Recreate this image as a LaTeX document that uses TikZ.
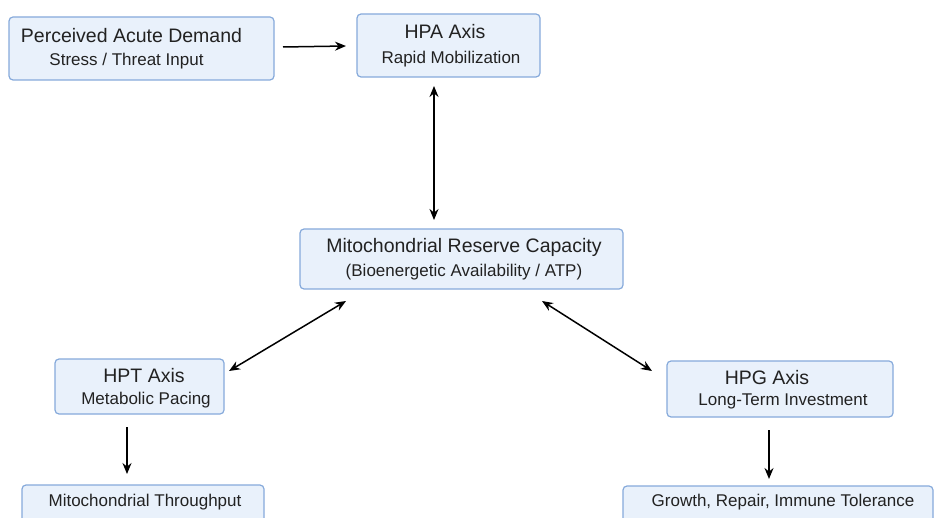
\documentclass[tikz,border=0pt]{standalone}
\usepackage{fontspec}
\setmainfont{Liberation Sans}
\usetikzlibrary{arrows.meta}
\definecolor{boxfill}{HTML}{E9F1FB}
\definecolor{boxline}{HTML}{86AADB}
\definecolor{txt}{HTML}{222222}
\begin{document}
\begin{tikzpicture}[x=1pt,y=-1pt,
  bx/.style={draw=boxline,fill=boxfill,line width=1.2pt,rounded corners=4pt},
  ttl/.style={text=txt,font=\fontsize{19.5}{21}\selectfont},
  sub/.style={text=txt,font=\fontsize{17}{19}\selectfont},
  arr/.style={line width=1.5pt,-{Stealth[length=11pt,width=9pt]}},
  darr/.style={line width=1.5pt,{Stealth[length=11pt,width=9pt]}-{Stealth[length=11pt,width=9pt]}}]
\useasboundingbox[fill=white] (0,0) rectangle (936,518);
\begin{scope}
\clip (0,0) rectangle (936,518);
% boxes
\draw[bx] (9,17) rectangle (274,80);
\node[ttl] (pt) at (131.5,36) {Perceived Acute Demand};
\node[sub] (ps) at (126.5,61) {Stress / Threat Input};
\coordinate (pR) at (283,47);

\draw[bx] (357,14) rectangle (540,77);
\node[ttl] (ht) at (445,32) {HPA Axis};
\node[sub] (hs) at (451,59) {Rapid Mobilization};
\coordinate (hL) at (346,46);
\coordinate (hB) at (434,86);

\draw[bx] (300,229) rectangle (623,289);
\node[ttl] (mt) at (464,247) {Mitochondrial Reserve Capacity};
\node[sub] (ms) at (464,272) {(Bioenergetic Availability / ATP)};
\coordinate (mT) at (434,220);
\coordinate (mL) at (346,301);
\coordinate (mR) at (542,301);

\draw[bx] (55,359) rectangle (224,414);
\node[ttl] (tt) at (144,376) {HPT Axis};
\node[sub] (ts) at (146,400) {Metabolic Pacing};
\coordinate (tR) at (229,371);
\coordinate (tB) at (127,427);

\draw[bx] (667,361) rectangle (893,417);
\node[ttl] (gt) at (767,378) {HPG Axis};
\node[sub] (gs) at (783,401) {Long-Term Investment};
\coordinate (gL) at (652,371);
\coordinate (gB) at (769,430);

\draw[bx] (22,485) rectangle (264,540);
\node[sub] (mtp) at (145,502) {Mitochondrial Throughput};
\coordinate (mtT) at (127,474);

\draw[bx] (623,486) rectangle (933,540);
\node[sub] (grw) at (783,502) {Growth, Repair, Immune Tolerance};
\coordinate (grT) at (769,479);
\end{scope}
% arrows
\draw[arr] (pR) -- (hL);
\draw[darr] (hB) -- (mT);
\draw[darr] (mL) -- (tR);
\draw[darr] (mR) -- (gL);
\draw[arr] (tB) -- (mtT);
\draw[arr] (gB) -- (grT);
\end{tikzpicture}
\end{document}
